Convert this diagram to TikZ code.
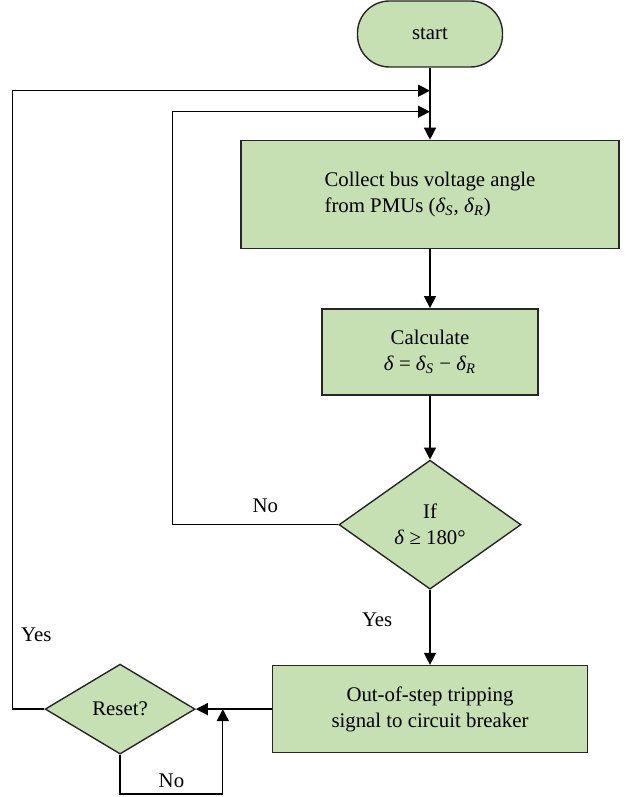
\documentclass[tikz,border=0pt]{standalone}
\usepackage{fontspec}
\setmainfont{Liberation Serif}
\usepackage{tikz}
\usetikzlibrary{arrows.meta,positioning,shapes.geometric}
\definecolor{vert}{RGB}{198,224,180}
\newcommand{\ang}[1]{\textit{δ}\textsubscript{\textit{#1}}}
\tikzset{
  bloc/.style={draw=black!85,fill=vert,line width=0.7pt,align=center,
    inner sep=3pt,font=\fontsize{10.4}{13}\selectfont},
  term/.style={bloc,rounded corners=16pt,minimum width=72.5pt,minimum height=33pt},
  test/.style={bloc,diamond,aspect=1.4,inner sep=0pt},
  fl/.style={-{Triangle[length=6pt,width=6pt]},line width=0.7pt},
  lbl/.style={font=\fontsize{10.4}{13}\selectfont,inner sep=1.5pt},
}
\begin{document}
\begin{tikzpicture}[node distance=30pt]
  \useasboundingbox (-215pt,17pt) rectangle (98.5pt,-381.5pt);
  \node[term] (start) {start};
  \node[bloc,minimum width=189pt,minimum height=54pt,align=left,below=36pt of start] (coll)
    {Collect bus voltage angle\\from PMUs (\ang{S}, \ang{R})};
  \node[bloc,minimum width=108pt,minimum height=43pt,below=29.5pt of coll] (calc)
    {Calculate\\\textit{δ} = \ang{S} − \ang{R}};
  \node[test,minimum width=91pt,minimum height=64.5pt,below=32pt of calc] (if)
    {If\\\textit{δ} ≥ 180°};
  \node[bloc,minimum width=157.5pt,minimum height=43.5pt,below=37.5pt of if] (trip)
    {Out-of-step tripping\\signal to circuit breaker};
  \node[test,minimum width=75pt,minimum height=45pt,left=38pt of trip] (reset) {Reset?};
  \coordinate[below=11.5pt of start] (j1);
  \coordinate[below=22pt of start] (j2);
  \coordinate[right=13.5pt of reset] (j3);
  \draw[fl] (start) -- (coll);
  \draw[fl] (coll) -- (calc);
  \draw[fl] (calc) -- (if);
  \draw[fl] (if) -- node[lbl,left=17pt,pos=0.4]{Yes} (trip);
  \draw[fl] (trip) -- (reset);
  \draw[fl] (if.west) -- node[lbl,above=4pt,pos=0.44]{No} ++(-83pt,0) |- (j2);
  \draw[fl] (reset.west) -- ++(-16pt,0) |- node[lbl,right=2.5pt,pos=0.06]{Yes} (j1);
  \draw[fl] (reset.south) -- ++(0,-19.5pt) -| node[lbl,above=1pt,pos=0.25]{No} (j3);
\end{tikzpicture}
\end{document}
